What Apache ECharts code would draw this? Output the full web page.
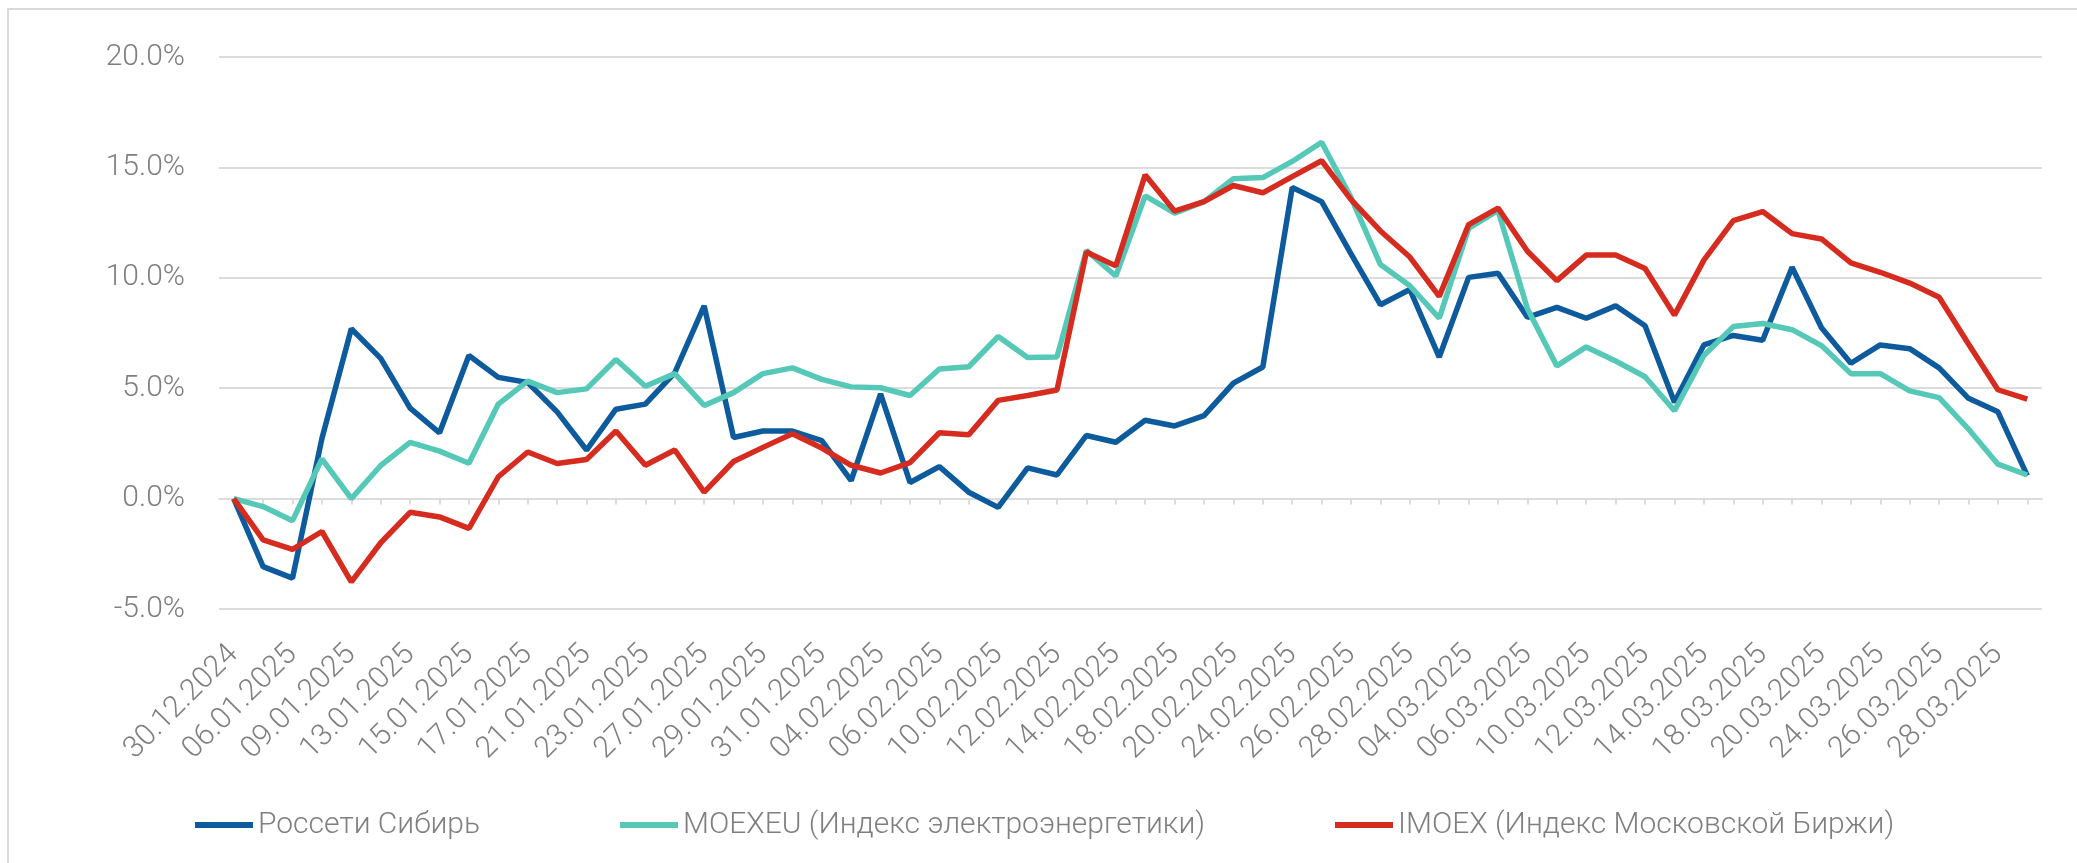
<!DOCTYPE html>
<html>
<head>
<meta charset="utf-8">
<script src="https://cdn.jsdelivr.net/npm/echarts@6/dist/echarts.min.js"></script>
<style>
  html, body { margin: 0; padding: 0; background: #fff; }
  #chart { width: 2077px; height: 863px; }
</style>
</head>
<body>
<div id="chart"></div>
<script>
const dates = [
  '30.12.2024', '03.01.2025', '06.01.2025', '08.01.2025', '09.01.2025', '10.01.2025',
  '13.01.2025', '14.01.2025', '15.01.2025', '16.01.2025', '17.01.2025', '20.01.2025',
  '21.01.2025', '22.01.2025', '23.01.2025', '24.01.2025', '27.01.2025', '28.01.2025',
  '29.01.2025', '30.01.2025', '31.01.2025', '03.02.2025', '04.02.2025', '05.02.2025',
  '06.02.2025', '07.02.2025', '10.02.2025', '11.02.2025', '12.02.2025', '13.02.2025',
  '14.02.2025', '17.02.2025', '18.02.2025', '19.02.2025', '20.02.2025', '21.02.2025',
  '24.02.2025', '25.02.2025', '26.02.2025', '27.02.2025', '28.02.2025', '03.03.2025',
  '04.03.2025', '05.03.2025', '06.03.2025', '07.03.2025', '10.03.2025', '11.03.2025',
  '12.03.2025', '13.03.2025', '14.03.2025', '17.03.2025', '18.03.2025', '19.03.2025',
  '20.03.2025', '21.03.2025', '24.03.2025', '25.03.2025', '26.03.2025', '27.03.2025',
  '28.03.2025', '31.03.2025'
];

// Россети Сибирь, %
const rosseti = [
  0, -3.08, -3.6, 2.72, 7.69, 6.35, 4.1, 2.98, 6.48, 5.49, 5.26, 3.93,
  2.2, 4.05, 4.28, 5.7, 8.73, 2.77, 3.06, 3.06, 2.63, 0.81, 4.74, 0.73,
  1.45, 0.29, -0.4, 1.39, 1.07, 2.86, 2.55, 3.55, 3.29, 3.76, 5.23, 5.96,
  14.09, 13.45, 11.08, 8.78, 9.47, 6.41, 10.02, 10.21, 8.21, 8.66, 8.17, 8.73,
  7.83, 4.36, 6.96, 7.39, 7.17, 10.48, 7.74, 6.13, 6.96, 6.79, 5.92, 4.54,
  3.93, 1.04
];

// MOEXEU, %
const moexeu = [
  0, -0.36, -1.0, 1.8, 0, 1.5, 2.55, 2.15, 1.6, 4.28, 5.32, 4.8,
  4.97, 6.3, 5.09, 5.66, 4.22, 4.8, 5.66, 5.92, 5.4, 5.06, 5.02, 4.67,
  5.87, 5.97, 7.34, 6.39, 6.41, 11.24, 10.08, 13.71, 12.93, 13.45, 14.49, 14.54,
  15.27, 16.14, 13.63, 10.6, 9.64, 8.17, 12.24, 13.05, 8.6, 6.01, 6.87, 6.23,
  5.52, 3.98, 6.48, 7.79, 7.93, 7.65, 6.93, 5.66, 5.66, 4.88, 4.57, 3.15,
  1.56, 1.07
];

// IMOEX, %
const imoex = [
  0, -1.87, -2.3, -1.49, -3.77, -2.0, -0.62, -0.83, -1.35, 0.99, 2.11, 1.59,
  1.77, 3.06, 1.51, 2.2, 0.29, 1.68, 2.32, 2.94, 2.29, 1.51, 1.16, 1.63,
  2.98, 2.89, 4.45, 4.67, 4.92, 11.17, 10.54, 14.66, 13.02, 13.45, 14.18, 13.85,
  14.58, 15.3, 13.54, 12.12, 10.94, 9.16, 12.41, 13.16, 11.2, 9.87, 11.03, 11.03,
  10.42, 8.31, 10.8, 12.59, 13.0, 12.0, 11.76, 10.68, 10.25, 9.76, 9.12, 7.0,
  4.93, 4.5
];

const seriesNames = [
  'Россети Сибирь',
  'MOEXEU (Индекс электроэнергетики)',
  'IMOEX (Индекс Московской Биржи)'
];
const colors = ['#0d5b9c', '#55c8b8', '#d62b1f'];
const legendLeft = [190, 615, 1330];

const font = 'Roboto, sans-serif';
const textColor = '#7f7f7f';
const gridColor = '#dcdcdc';

const chart = echarts.init(document.getElementById('chart'), null, { renderer: 'canvas' });

const makeLine = (name, data, color) => ({
  name,
  type: 'line',
  data,
  showSymbol: false,
  symbol: 'none',
  lineStyle: { width: 5.5, color },
  itemStyle: { color },
});

chart.setOption({
  animation: false,
  backgroundColor: '#fff',
  color: colors,
  graphic: [{
    type: 'rect',
    shape: { x: 8, y: 9, width: 2200, height: 1000 },
    style: { fill: 'none', stroke: '#d9d9d9', lineWidth: 2 },
    silent: true,
  }],
  grid: {
    left: 219,
    right: 35,
    top: 57,
    bottom: 254,
    outerBoundsMode: 'none',
  },
  // one legend per series so each item sits where it does in the original
  legend: seriesNames.map((name, i) => ({
    left: legendLeft[i],
    top: 805,
    itemWidth: 58,
    itemHeight: 6,
    icon: 'rect',
    textStyle: {
      fontFamily: font,
      fontWeight: 300,
      fontSize: 30,
      color: textColor,
    },
    data: [name],
  })),
  xAxis: {
    type: 'category',
    data: dates,
    boundaryGap: true,
    axisLine: { onZero: true, lineStyle: { color: gridColor, width: 2 } },
    axisTick: {
      show: true,
      alignWithLabel: true,
      interval: 0,
      length: 6,
      lineStyle: { color: gridColor, width: 2 },
    },
    axisLabel: {
      interval: 1,
      rotate: 45,
      margin: 41,
      fontFamily: font,
      fontWeight: 300,
      fontSize: 30,
      color: textColor,
    },
    splitLine: { show: false },
  },
  yAxis: {
    type: 'value',
    min: -5,
    max: 20,
    interval: 5,
    axisLine: { show: false },
    axisTick: { show: false },
    axisLabel: {
      margin: 34,
      fontFamily: font,
      fontWeight: 300,
      fontSize: 30,
      color: textColor,
      formatter: v => v.toFixed(1) + '%',
    },
    splitLine: { lineStyle: { color: gridColor, width: 2 } },
  },
  series: [
    makeLine(seriesNames[0], rosseti, colors[0]),
    makeLine(seriesNames[1], moexeu, colors[1]),
    makeLine(seriesNames[2], imoex, colors[2]),
  ],
});
</script>
</body>
</html>
